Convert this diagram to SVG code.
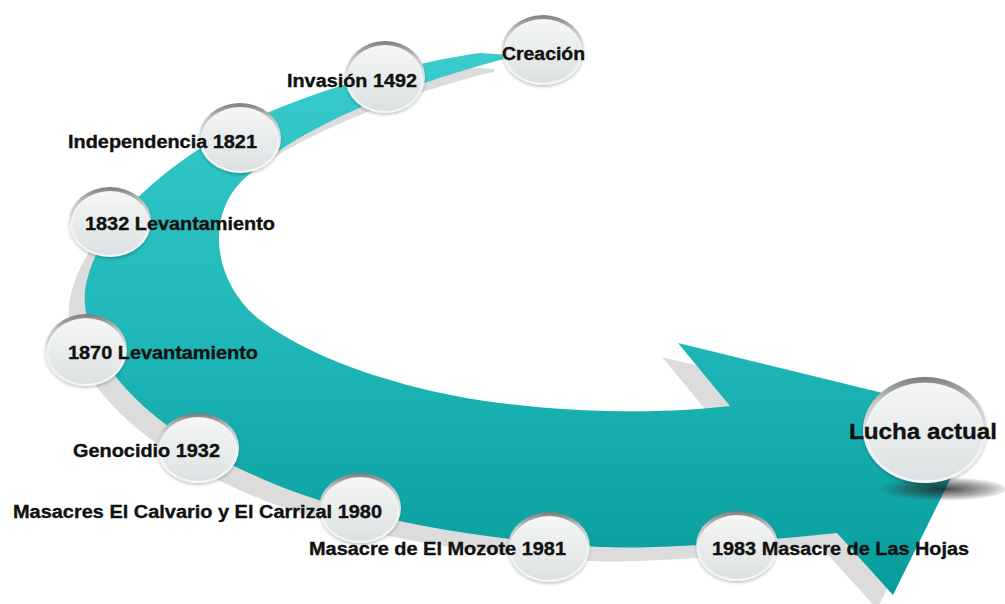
<svg xmlns="http://www.w3.org/2000/svg" width="1005" height="604" viewBox="0 0 1005 604">
  <defs>
    <linearGradient id="teal" gradientUnits="userSpaceOnUse" x1="0" y1="50" x2="0" y2="600">
      <stop offset="0" stop-color="#3ACCCC"/>
      <stop offset="0.5" stop-color="#20B8B8"/>
      <stop offset="1" stop-color="#069C9C"/>
    </linearGradient>
    <linearGradient id="rim" x1="0" y1="0" x2="0" y2="1">
      <stop offset="0" stop-color="#7a7c7d"/>
      <stop offset="0.22" stop-color="#c3c7c8"/>
      <stop offset="0.6" stop-color="#eceeee"/>
      <stop offset="1" stop-color="#f4f6f6"/>
    </linearGradient>
    <linearGradient id="face" x1="0" y1="0" x2="0" y2="1">
      <stop offset="0" stop-color="#f5f6f6"/>
      <stop offset="0.5" stop-color="#e9ecec"/>
      <stop offset="1" stop-color="#dbe1e2"/>
    </linearGradient>
    <radialGradient id="darkshadow" cx="0.55" cy="0.5" r="0.5">
      <stop offset="0" stop-color="#1a1a1a" stop-opacity="0.8"/>
      <stop offset="0.6" stop-color="#2a2a2a" stop-opacity="0.4"/>
      <stop offset="1" stop-color="#333" stop-opacity="0"/>
    </radialGradient>
    <filter id="drop" x="-20%" y="-20%" width="140%" height="150%">
      <feDropShadow dx="0" dy="2" stdDeviation="1.5" flood-color="#000" flood-opacity="0.22"/>
    </filter>
    <path id="band" d="M 510 55 L 480 53 C 400 64, 300 95, 230 130 C 160 170, 95 225, 85 290 C 80 360, 150 430, 260 478 C 350 518, 480 540, 600 547 C 650 549, 720 545, 837 533 L 893 595 L 981 417 L 678 343 L 730 406 C 680 412, 600 415, 500 403 C 420 393, 320 365, 260 320 C 215 285, 205 220, 240 183 C 280 140, 370 95, 500 60 L 510 58 Z"/>
  </defs>
  <style>
    .rim { fill: url(#rim); }
    .face { fill: url(#face); stroke: #ffffff; stroke-opacity: 0.7; stroke-width: 1; }
    .bub { filter: url(#drop); }
    .lbl { font-family: "Liberation Sans", Arial, sans-serif; font-weight: bold; font-size: 18px; fill: #111111; stroke: #111111; stroke-width: 0.35; }
    .big { font-size: 22px; }
  </style>

  <g id="connectors">
    <use href="#band" transform="translate(-16,14)" fill="#dcdcdc"/>
    <use href="#band" fill="url(#teal)"/>
    <ellipse cx="938" cy="489" rx="68" ry="12" fill="url(#darkshadow)"/>
  </g>

  <g id="n-creacion">
    <g class="bub"><ellipse class="rim" cx="543" cy="50" rx="41" ry="35"/><ellipse class="face" cx="543" cy="51.5" rx="38.5" ry="32"/></g>
    <text class="lbl" x="502" y="60" textLength="83" lengthAdjust="spacingAndGlyphs">Creación</text>
  </g>
  <g id="n-invasion">
    <g class="bub"><ellipse class="rim" cx="385" cy="77" rx="40" ry="36"/><ellipse class="face" cx="385" cy="78.5" rx="37.5" ry="33"/></g>
    <text class="lbl" x="287" y="87" textLength="130" lengthAdjust="spacingAndGlyphs">Invasión 1492</text>
  </g>
  <g id="n-independencia">
    <g class="bub"><ellipse class="rim" cx="240" cy="138" rx="41" ry="35"/><ellipse class="face" cx="240" cy="139.5" rx="38.5" ry="32"/></g>
    <text class="lbl" x="68" y="148" textLength="189" lengthAdjust="spacingAndGlyphs">Independencia 1821</text>
  </g>
  <g id="n-1832">
    <g class="bub"><ellipse class="rim" cx="110" cy="222" rx="41" ry="35"/><ellipse class="face" cx="110" cy="223.5" rx="38.5" ry="32"/></g>
    <text class="lbl" x="85" y="230" textLength="190" lengthAdjust="spacingAndGlyphs">1832 Levantamiento</text>
  </g>
  <g id="n-1870">
    <g class="bub"><ellipse class="rim" cx="86" cy="350" rx="41" ry="36"/><ellipse class="face" cx="86" cy="351.5" rx="38.5" ry="33"/></g>
    <text class="lbl" x="68" y="359" textLength="190" lengthAdjust="spacingAndGlyphs">1870 Levantamiento</text>
  </g>
  <g id="n-genocidio">
    <g class="bub"><ellipse class="rim" cx="198" cy="448" rx="41" ry="35"/><ellipse class="face" cx="198" cy="449.5" rx="38.5" ry="32"/></g>
    <text class="lbl" x="73" y="457" textLength="147" lengthAdjust="spacingAndGlyphs">Genocidio 1932</text>
  </g>
  <g id="n-1980">
    <g class="bub"><ellipse class="rim" cx="360" cy="508" rx="41" ry="35"/><ellipse class="face" cx="360" cy="509.5" rx="38.5" ry="32"/></g>
    <text class="lbl" x="13" y="518" textLength="369" lengthAdjust="spacingAndGlyphs">Masacres El Calvario y El Carrizal 1980</text>
  </g>
  <g id="n-mozote">
    <g class="bub"><ellipse class="rim" cx="549" cy="547" rx="41" ry="35"/><ellipse class="face" cx="549" cy="548.5" rx="38.5" ry="32"/></g>
    <text class="lbl" x="309" y="555" textLength="257" lengthAdjust="spacingAndGlyphs">Masacre de El Mozote 1981</text>
  </g>
  <g id="n-hojas">
    <g class="bub"><ellipse class="rim" cx="737" cy="546" rx="41" ry="35"/><ellipse class="face" cx="737" cy="547.5" rx="38.5" ry="32"/></g>
    <text class="lbl" x="712" y="555" textLength="257" lengthAdjust="spacingAndGlyphs">1983 Masacre de Las Hojas</text>
  </g>
  <g id="n-lucha">
    <g class="bub"><ellipse class="rim" cx="925" cy="430" rx="62" ry="53"/><ellipse class="face" cx="925" cy="432" rx="58.5" ry="49"/></g>
    <text class="lbl big" x="849" y="439" textLength="148" lengthAdjust="spacingAndGlyphs">Lucha actual</text>
  </g>
</svg>
